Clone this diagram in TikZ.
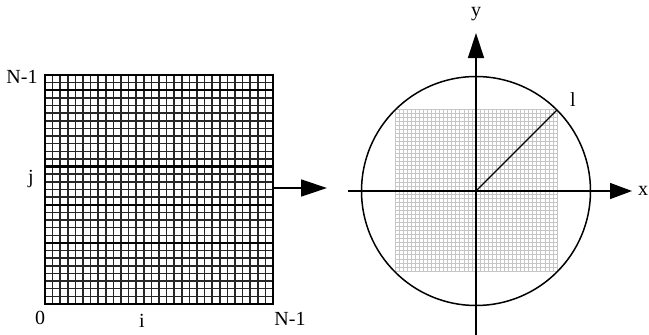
\documentclass[tikz,border=0pt]{standalone}
\usepackage{fontspec}
\setmainfont{Liberation Serif}
\usetikzlibrary{arrows.meta}
\begin{document}
\begin{tikzpicture}[x=1pt,y=-1pt,
  lbl/.style={font=\fontsize{20}{20}\selectfont, inner sep=0pt},
  biggrid/.style={line width=1.5pt, black!85},
  finegrid/.style={line width=0.7pt, gray!45},
  axis/.style={line width=1.4pt},
  bigtip/.style={-{Triangle[length=26pt,width=17pt]}}
]
\useasboundingbox (0,0) rectangle (649,335);
% left grid
\coordinate (gTL) at (45,75);
\coordinate (gBR) at (273,304);
\foreach \k in {0,...,30} {
  \draw[biggrid] ({45+\k*228/30},75) -- ({45+\k*228/30},304);
  \draw[biggrid] (45,{75+\k*229/30}) -- (273,{75+\k*229/30});
}
\foreach \k in {0,2,12,17,22} {\draw[line width=2.3pt] (45,{75+\k*229/30}) -- (273,{75+\k*229/30});}
\draw[line width=1.8pt] (gTL) rectangle (gBR);
\coordinate (aS) at (273,188);
\coordinate (aE) at (327,188);
\draw[axis,bigtip] (aS) -- (aE);
\node[lbl] (n1a) at (22,77) {N-1};
\node[lbl] (jl) at (31,179) {j};
\node[lbl] (zl) at (40,318) {0};
\node[lbl] (il) at (142,321) {i};
\node[lbl] (n1b) at (290,319) {N-1};
% right
\coordinate (O) at (476,191);
\foreach \k in {0,...,40} {
  \draw[finegrid] ({395+\k*162/40},109) -- ({395+\k*162/40},271);
  \draw[finegrid] (395,{109+\k*162/40}) -- (557,{109+\k*162/40});
}
\draw[line width=1.5pt] (O) circle (114.5);
\coordinate (corner) at (557,110);
\draw[line width=1.3pt] (O) -- (corner);
\coordinate (xS) at (348,191);
\coordinate (xE) at (632,191);
\coordinate (yS) at (476,335);
\coordinate (yE) at (476,33);
\draw[axis,-{Triangle[length=22pt,width=16pt]}] (xS) -- (xE);
\draw[axis,-{Triangle[length=25pt,width=16pt]}] (yS) -- (yE);
\node[lbl] (xl) at (643,191) {x};
\node[lbl] (yl) at (476,14) {y};
\node[lbl] (ll) at (573,100) {l};
\end{tikzpicture}
\end{document}
